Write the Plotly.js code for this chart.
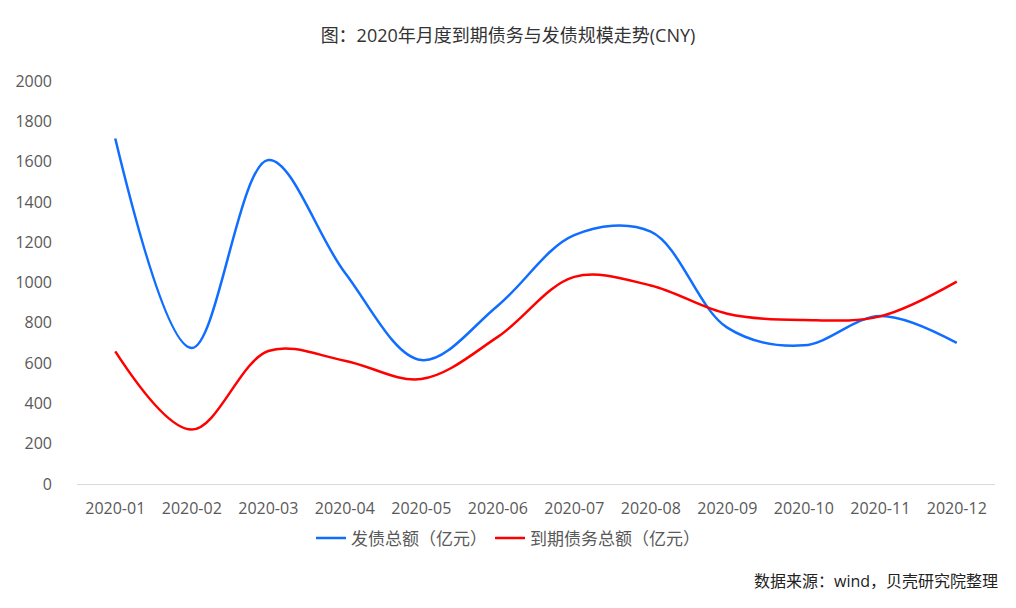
<!DOCTYPE html>
<html>
<head>
<meta charset="utf-8">
<script src="https://cdn.plot.ly/plotly-3.0.1.min.js"></script>
<style>html,body{margin:0;padding:0;background:#fff;}#chart{width:1016px;height:608px;}</style>
</head>
<body>
<div id="chart"></div>
<script>
const months = ['2020-01','2020-02','2020-03','2020-04','2020-05','2020-06','2020-07','2020-08','2020-09','2020-10','2020-11','2020-12'];
const issuance = [1715, 675, 1608, 1050, 615, 885, 1235, 1252, 776, 688, 834, 700];
const maturity = [658, 270, 660, 612, 521, 730, 1028, 985, 845, 814, 832, 1004];
const seriesNames = ['发债总额（亿元）', '到期债务总额（亿元）'];
const yTicks = [0,200,400,600,800,1000,1200,1400,1600,1800,2000];

const font = "'Open Sans', 'Noto Sans CJK SC', sans-serif";
const traces = [
  {x: months, y: issuance, name: seriesNames[0], type: 'scatter', mode: 'lines', legend: 'legend',
   line: {color: '#0F6EFF', width: 2.5, shape: 'spline', smoothing: 1}},
  {x: months, y: maturity, name: seriesNames[1], type: 'scatter', mode: 'lines', legend: 'legend2',
   line: {color: '#FF0000', width: 2.5, shape: 'spline', smoothing: 1}}
];
const legendBase = {orientation: 'h', xanchor: 'left', y: -0.135, yanchor: 'middle',
                    font: {size: 17, color: '#595959'}, itemwidth: 30, bgcolor: 'rgba(0,0,0,0)'};
const layout = {
  width: 1016, height: 608,
  margin: {l: 77, r: 21, t: 81, b: 124},
  paper_bgcolor: '#fff', plot_bgcolor: '#fff',
  font: {family: font, color: '#595959', size: 15},
  title: {text: '图：2020年月度到期债务与发债规模走势(CNY)', x: 0.5, xanchor: 'center', y: 0.942, yanchor: 'middle',
          font: {family: font, size: 18, color: '#333333'}},
  xaxis: {type: 'category', range: [-0.5, 11.5], showgrid: false, zeroline: false,
          showline: true, linecolor: '#D9D9D9', linewidth: 1, ticks: '', tickfont: {size: 16, color: '#595959'}, ticklabelstandoff: 10},
  yaxis: {range: [0, 2000], tickvals: yTicks, showgrid: false, zeroline: false, showline: false,
          ticks: '', tickfont: {size: 16, color: '#595959'}, ticklabelstandoff: 24},
  showlegend: true,
  legend: Object.assign({}, legendBase, {x: 0.2549}),
  legend2: Object.assign({}, legendBase, {x: 0.4499}),
  annotations: [{text: '数据来源：wind，贝壳研究院整理', xref: 'paper', yref: 'paper', x: 1.005, y: -0.24,
                 xanchor: 'right', yanchor: 'middle', showarrow: false, font: {size: 16, color: '#222222'}}]
};
Plotly.newPlot('chart', traces, layout, {displayModeBar: false, staticPlot: true});
</script>
</body>
</html>
